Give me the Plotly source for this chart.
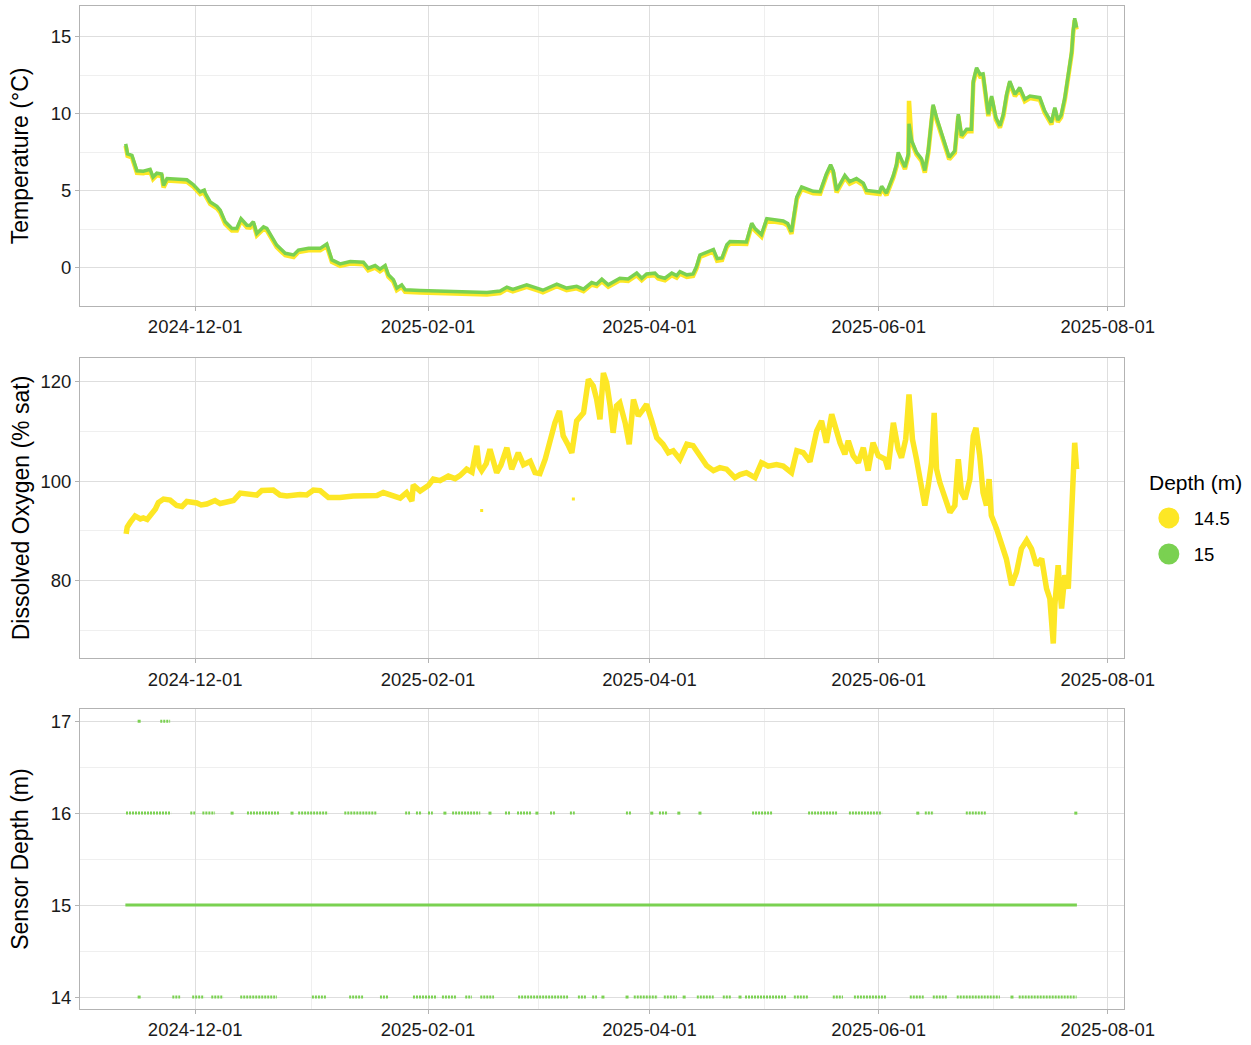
import plotly.graph_objects as go

# ---------------- data ----------------
# Temperature (°C) at the two sensor depths
temp_time = [
    "2024-11-12 12:00", "2024-11-12 18:00", "2024-11-13 00:00", "2024-11-14 04:00", "2024-11-15 12:00",
    "2024-11-17 05:00", "2024-11-19 00:00", "2024-11-19 19:00", "2024-11-20 19:00", "2024-11-22 02:00",
    "2024-11-22 14:00", "2024-11-23 12:00", "2024-11-28 19:00", "2024-11-30 13:00", "2024-12-02 08:00",
    "2024-12-03 10:00", "2024-12-03 17:00", "2024-12-05 00:00", "2024-12-06 19:00", "2024-12-07 16:00",
    "2024-12-09 00:00", "2024-12-10 19:00", "2024-12-12 02:00", "2024-12-13 05:00", "2024-12-14 19:00",
    "2024-12-15 14:00", "2024-12-16 12:00", "2024-12-17 10:00", "2024-12-19 05:00", "2024-12-20 02:00",
    "2024-12-22 17:00", "2024-12-24 02:00", "2024-12-25 00:00", "2024-12-27 05:00", "2024-12-28 12:00",
    "2024-12-31 05:00", "2025-01-03 07:00", "2025-01-05 01:00", "2025-01-06 10:00", "2025-01-08 14:00",
    "2025-01-11 07:00", "2025-01-14 19:00", "2025-01-16 02:00", "2025-01-17 22:00", "2025-01-19 05:00",
    "2025-01-20 14:00", "2025-01-21 11:00", "2025-01-22 19:00", "2025-01-23 17:00", "2025-01-25 00:00",
    "2025-01-25 22:00", "2025-01-29 22:00", "2025-02-06 00:00", "2025-02-09 12:00", "2025-02-16 17:00",
    "2025-02-20 05:00", "2025-02-22 00:00", "2025-02-23 14:00", "2025-02-27 07:00", "2025-03-02 19:00",
    "2025-03-03 14:00", "2025-03-07 07:00", "2025-03-09 22:00", "2025-03-12 14:00", "2025-03-14 10:00",
    "2025-03-16 14:00", "2025-03-17 22:00", "2025-03-19 07:00", "2025-03-21 00:00", "2025-03-24 02:00",
    "2025-03-26 07:00", "2025-03-28 14:00", "2025-03-29 22:00", "2025-03-31 05:00", "2025-04-02 10:00",
    "2025-04-03 07:00", "2025-04-05 02:00", "2025-04-06 22:00", "2025-04-08 05:00", "2025-04-09 02:00",
    "2025-04-10 22:00", "2025-04-12 14:00", "2025-04-13 12:00", "2025-04-14 10:00", "2025-04-16 05:00",
    "2025-04-18 00:00", "2025-04-19 00:00", "2025-04-20 07:00", "2025-04-21 14:00", "2025-04-22 10:00",
    "2025-04-26 19:00", "2025-04-28 05:00", "2025-04-29 02:00", "2025-04-30 19:00", "2025-05-02 05:00",
    "2025-05-06 14:00", "2025-05-07 19:00", "2025-05-08 19:00", "2025-05-10 05:00", "2025-05-11 12:00",
    "2025-05-14 14:00", "2025-05-16 10:00", "2025-05-18 02:00", "2025-05-19 05:00", "2025-05-19 22:00",
    "2025-05-20 19:00", "2025-05-23 00:00", "2025-05-24 07:00", "2025-05-26 02:00", "2025-05-27 22:00",
    "2025-05-28 19:00", "2025-06-01 07:00", "2025-06-01 19:00", "2025-06-03 02:00", "2025-06-04 22:00",
    "2025-06-05 19:00", "2025-06-06 05:00", "2025-06-08 00:00", "2025-06-08 22:00", "2025-06-09 02:00",
    "2025-06-09 19:00", "2025-06-11 02:00", "2025-06-12 10:00", "2025-06-13 07:00", "2025-06-14 05:00",
    "2025-06-14 19:00", "2025-06-15 12:00", "2025-06-16 10:00", "2025-06-17 07:00", "2025-06-18 14:00",
    "2025-06-19 19:00", "2025-06-21 07:00", "2025-06-22 05:00", "2025-06-23 02:00", "2025-06-24 10:00",
    "2025-06-25 17:00", "2025-06-26 05:00", "2025-06-27 02:00", "2025-06-28 00:00", "2025-06-28 19:00",
    "2025-06-29 12:00", "2025-06-30 05:00", "2025-07-01 02:00", "2025-07-02 05:00", "2025-07-03 07:00",
    "2025-07-04 05:00", "2025-07-05 02:00", "2025-07-05 22:00", "2025-07-07 07:00", "2025-07-08 14:00",
    "2025-07-09 22:00", "2025-07-11 07:00", "2025-07-13 22:00", "2025-07-15 05:00", "2025-07-17 00:00",
    "2025-07-17 22:00", "2025-07-18 17:00", "2025-07-19 14:00", "2025-07-20 14:00", "2025-07-21 10:00",
    "2025-07-22 10:00", "2025-07-22 19:00", "2025-07-23 05:00", "2025-07-23 17:00",
]
temp_15m = [
    8.05, 7.6, 7.4, 7.3, 6.3, 6.28, 6.4, 5.9, 6.15, 6.1,
    5.35, 5.8, 5.72, 5.4, 4.93, 5.05, 4.84, 4.28, 4.0, 3.74,
    2.99, 2.56, 2.56, 3.2, 2.77, 2.75, 3.0, 2.24, 2.66, 2.56,
    1.48, 1.16, 0.95, 0.84, 1.16, 1.27, 1.27, 1.55, 0.52, 0.26,
    0.41, 0.37, -0.02, 0.15, -0.08, 0.15, -0.45, -0.77, -1.31, -1.1,
    -1.42, -1.46, -1.53, -1.55, -1.6, -1.5, -1.25, -1.4, -1.1, -1.38,
    -1.45, -1.05, -1.31, -1.2, -1.38, -0.95, -1.05, -0.73, -1.1, -0.67,
    -0.72, -0.34, -0.67, -0.39, -0.34, -0.56, -0.67, -0.34, -0.5, -0.24,
    -0.45, -0.39, 0.09, 0.84, 1.05, 1.2, 0.6, 0.65, 1.5, 1.72,
    1.68, 2.9, 2.55, 2.16, 3.2, 3.05, 2.88, 2.34, 4.6, 5.25,
    4.97, 4.95, 6.1, 6.7, 6.3, 5.03, 6.0, 5.6, 5.8, 5.5,
    5.03, 4.92, 5.3, 4.85, 6.0, 6.75, 7.5, 6.54, 7.4, 9.35,
    8.26, 7.5, 7.08, 6.32, 7.6, 8.8, 10.6, 9.76, 9.1, 8.05,
    7.18, 7.6, 9.98, 8.58, 9.0, 9.0, 12.13, 12.99, 12.56, 12.6,
    11.27, 9.98, 11.16, 9.76, 9.23, 9.98, 11.27, 12.13, 11.27, 11.7,
    10.95, 11.16, 11.05, 10.2, 9.44, 10.4, 9.6, 9.9, 11.05, 12.35,
    14.06, 15.35, 16.2, 15.6,
]
temp_14_5m = [
    7.92, 7.47, 7.27, 7.17, 6.17, 6.15, 6.27, 5.77, 6.02, 5.97,
    5.22, 5.67, 5.59, 5.27, 4.80, 4.92, 4.71, 4.15, 3.87, 3.61,
    2.86, 2.43, 2.43, 3.07, 2.64, 2.62, 2.87, 2.11, 2.53, 2.43,
    1.35, 1.03, 0.82, 0.71, 1.03, 1.14, 1.14, 1.42, 0.39, 0.13,
    0.28, 0.24, -0.15, 0.02, -0.21, 0.02, -0.58, -0.90, -1.44, -1.23,
    -1.55, -1.59, -1.66, -1.68, -1.73, -1.63, -1.38, -1.53, -1.23, -1.51,
    -1.58, -1.18, -1.44, -1.33, -1.51, -1.08, -1.18, -0.86, -1.23, -0.80,
    -0.85, -0.47, -0.80, -0.52, -0.47, -0.69, -0.80, -0.47, -0.63, -0.37,
    -0.58, -0.52, -0.04, 0.71, 0.92, 1.07, 0.47, 0.52, 1.37, 1.59,
    1.55, 2.77, 2.42, 2.03, 3.07, 2.92, 2.75, 2.21, 4.47, 5.12,
    4.84, 4.82, 5.97, 6.57, 6.17, 4.90, 5.87, 5.47, 5.67, 5.37,
    4.90, 4.79, 5.17, 4.72, 5.87, 6.62, 7.37, 6.41, 7.27, 10.84,
    8.13, 7.37, 6.95, 6.19, 7.47, 8.67, 10.47, 9.63, 8.97, 7.92,
    7.05, 7.47, 9.85, 8.45, 8.87, 8.87, 12.00, 12.86, 12.43, 12.47,
    11.14, 9.85, 11.03, 9.63, 9.10, 9.85, 11.14, 12.00, 11.14, 11.57,
    10.82, 11.03, 10.92, 10.07, 9.31, 10.27, 9.47, 9.77, 10.92, 12.22,
    13.93, 15.22, 16.07, 15.47,
]

# Dissolved oxygen (% sat), 14.5 m sensor only
do_time = [
    "2024-11-12 15:00", "2024-11-12 22:00", "2024-11-13 17:00", "2024-11-15 00:00", "2024-11-16 10:00",
    "2024-11-17 05:00", "2024-11-18 05:00", "2024-11-19 00:00", "2024-11-20 10:00", "2024-11-21 05:00",
    "2024-11-22 14:00", "2024-11-24 08:00", "2024-11-26 02:00", "2024-11-27 12:00", "2024-11-28 19:00",
    "2024-12-01 11:00", "2024-12-02 14:00", "2024-12-04 02:00", "2024-12-06 07:00", "2024-12-07 16:00",
    "2024-12-09 00:00", "2024-12-11 05:00", "2024-12-13 00:00", "2024-12-15 14:00", "2024-12-17 10:00",
    "2024-12-18 18:00", "2024-12-21 19:00", "2024-12-23 14:00", "2024-12-25 10:00", "2024-12-28 22:00",
    "2024-12-30 17:00", "2025-01-01 12:00", "2025-01-03 07:00", "2025-01-05 12:00", "2025-01-08 14:00",
    "2025-01-12 02:00", "2025-01-15 17:00", "2025-01-18 10:00", "2025-01-20 02:00", "2025-01-22 19:00",
    "2025-01-24 14:00", "2025-01-26 07:00", "2025-01-27 17:00", "2025-01-28 02:00", "2025-01-29 22:00",
    "2025-02-01 02:00", "2025-02-02 10:00", "2025-02-04 05:00", "2025-02-06 10:00", "2025-02-08 05:00",
    "2025-02-09 12:00", "2025-02-11 07:00", "2025-02-12 17:00", "2025-02-14 00:00", "2025-02-14 14:00",
    "2025-02-15 07:00", "2025-02-16 12:00", "2025-02-17 12:00", "2025-02-19 07:00", "2025-02-20 10:00",
    "2025-02-22 00:00", "2025-02-23 07:00", "2025-02-25 01:00", "2025-02-26 10:00", "2025-02-28 05:00",
    "2025-03-01 12:00", "2025-03-02 19:00", "2025-03-04 05:00", "2025-03-05 12:00", "2025-03-06 19:00",
    "2025-03-08 00:00", "2025-03-09 00:00", "2025-03-10 10:00", "2025-03-11 07:00", "2025-03-12 14:00",
    "2025-03-14 10:00", "2025-03-15 17:00", "2025-03-17 00:00", "2025-03-17 22:00", "2025-03-18 19:00",
    "2025-03-19 17:00", "2025-03-20 14:00", "2025-03-21 12:00", "2025-03-22 07:00", "2025-03-23 05:00",
    "2025-03-24 02:00", "2025-03-25 12:00", "2025-03-26 14:00", "2025-03-27 17:00", "2025-03-29 00:00",
    "2025-03-30 07:00", "2025-03-31 05:00", "2025-04-01 14:00", "2025-04-02 22:00", "2025-04-04 14:00",
    "2025-04-06 00:00", "2025-04-07 07:00", "2025-04-09 02:00", "2025-04-10 22:00", "2025-04-12 14:00",
    "2025-04-14 10:00", "2025-04-16 05:00", "2025-04-18 00:00", "2025-04-19 17:00", "2025-04-21 12:00",
    "2025-04-23 17:00", "2025-04-25 02:00", "2025-04-26 19:00", "2025-04-29 02:00", "2025-04-30 19:00",
    "2025-05-02 14:00", "2025-05-04 19:00", "2025-05-06 14:00", "2025-05-08 19:00", "2025-05-10 05:00",
    "2025-05-11 22:00", "2025-05-13 17:00", "2025-05-15 12:00", "2025-05-16 19:00", "2025-05-18 02:00",
    "2025-05-19 12:00", "2025-05-20 07:00", "2025-05-21 17:00", "2025-05-23 00:00", "2025-05-23 22:00",
    "2025-05-25 05:00", "2025-05-26 14:00", "2025-05-27 22:00", "2025-05-29 05:00", "2025-05-30 12:00",
    "2025-05-31 22:00", "2025-06-02 17:00", "2025-06-03 12:00", "2025-06-04 22:00", "2025-06-06 05:00",
    "2025-06-07 02:00", "2025-06-08 05:00", "2025-06-09 02:00", "2025-06-10 00:00", "2025-06-11 02:00",
    "2025-06-12 10:00", "2025-06-13 07:00", "2025-06-14 05:00", "2025-06-15 02:00", "2025-06-15 19:00",
    "2025-06-16 10:00", "2025-06-17 07:00", "2025-06-18 14:00", "2025-06-20 00:00", "2025-06-21 07:00",
    "2025-06-22 05:00", "2025-06-23 02:00", "2025-06-24 00:00", "2025-06-25 07:00", "2025-06-26 05:00",
    "2025-06-26 22:00", "2025-06-27 22:00", "2025-06-28 19:00", "2025-06-29 17:00", "2025-06-30 10:00",
    "2025-07-01 00:00", "2025-07-02 10:00", "2025-07-03 17:00", "2025-07-05 00:00", "2025-07-06 10:00",
    "2025-07-07 17:00", "2025-07-09 00:00", "2025-07-10 10:00", "2025-07-11 17:00", "2025-07-13 00:00",
    "2025-07-14 10:00", "2025-07-15 17:00", "2025-07-16 14:00", "2025-07-17 12:00", "2025-07-17 22:00",
    "2025-07-18 19:00", "2025-07-19 17:00", "2025-07-20 14:00", "2025-07-21 12:00", "2025-07-21 22:00",
    "2025-07-22 10:00", "2025-07-22 19:00", "2025-07-23 05:00", "2025-07-23 17:00",
]
do_14_5m = [
    89.4, 90.8, 91.7, 93.0, 92.4, 92.6, 92.3, 93.0, 94.4, 95.7,
    96.4, 96.2, 95.1, 94.9, 95.9, 95.6, 95.2, 95.4, 96.1, 95.5,
    95.8, 96.1, 97.6, 97.4, 97.2, 98.1, 98.2, 97.2, 97.0, 97.3,
    97.2, 98.2, 98.1, 96.7, 96.7, 97.0, 97.0, 97.1, 97.7, 96.9,
    96.6, 97.7, 96.0, 99.2, 98.0, 99.1, 100.4, 100.1, 101.0, 100.5,
    101.1, 102.4, 101.8, 107.1, 103.0, 102.1, 103.5, 106.4, 101.7, 103.2,
    106.7, 102.4, 105.7, 103.3, 104.0, 101.7, 101.5, 104.4, 108.4, 111.7,
    114.1, 109.1, 107.1, 105.7, 112.1, 113.7, 120.4, 119.1, 116.4, 112.4,
    121.7, 119.7, 115.1, 109.7, 115.1, 115.7, 111.7, 107.4, 116.4, 113.1,
    114.4, 115.4, 112.1, 108.7, 107.4, 105.7, 106.1, 104.4, 107.4, 107.1,
    105.1, 103.1, 102.1, 102.7, 102.4, 100.7, 101.3, 101.7, 100.7, 103.7,
    103.0, 103.3, 103.0, 101.7, 106.1, 105.7, 103.9, 110.1, 112.1, 107.7,
    113.4, 111.1, 107.7, 105.4, 108.1, 105.1, 103.7, 106.7, 102.1, 107.7,
    105.1, 104.4, 102.4, 111.7, 106.4, 104.7, 108.4, 117.4, 108.4, 104.4,
    98.4, 95.1, 99.1, 103.7, 113.7, 102.4, 99.7, 97.1, 93.7, 95.1,
    104.4, 97.7, 96.4, 100.4, 109.1, 110.7, 105.1, 97.7, 95.1, 100.4,
    93.1, 90.4, 87.1, 84.4, 79.1, 81.7, 86.4, 88.1, 86.4, 83.1,
    84.4, 78.4, 76.4, 67.4, 75.1, 83.1, 74.4, 81.1, 78.4, 86.4,
    93.1, 102.4, 107.7, 102.4,
]
# isolated low oxygen readings
do_outlier_time = ["2025-02-15 07:00", "2025-03-11 17:00"]
do_outlier_value = [94.1, 96.4]

# Sensor depth (m) of the 15 m logger
depth_record = ["2024-11-12 10:00", "2025-07-23 19:00"]   # logger nominally at 15 m throughout
depth_nominal = [15, 15]
depth16_start = ["2024-11-12 14:00", "2024-11-29 17:00", "2024-12-02 22:00", "2024-12-14 19:00",
                 "2024-12-28 10:00", "2025-01-09 17:00", "2025-01-25 22:00", "2025-01-28 19:00",
                 "2025-02-01 00:00", "2025-02-07 10:00", "2025-02-21 12:00", "2025-02-24 17:00",
                 "2025-03-05 12:00", "2025-03-10 19:00", "2025-03-25 17:00", "2025-04-03 12:00",
                 "2025-04-28 07:00", "2025-05-13 05:00", "2025-05-24 02:00", "2025-06-13 07:00",
                 "2025-06-24 05:00"]
depth16_end = ["2024-11-24 14:00", "2024-12-01 00:00", "2024-12-06 07:00", "2024-12-23 14:00",
               "2025-01-05 10:00", "2025-01-18 10:00", "2025-01-27 05:00", "2025-01-30 10:00",
               "2025-02-02 07:00", "2025-02-14 22:00", "2025-02-23 02:00", "2025-02-28 10:00",
               "2025-03-06 19:00", "2025-03-12 02:00", "2025-03-27 07:00", "2025-04-05 22:00",
               "2025-05-03 19:00", "2025-05-20 22:00", "2025-06-01 22:00", "2025-06-15 17:00",
               "2025-06-29 19:00"]
depth16_single = ["2024-12-10 20:00", "2024-12-26 19:00", "2025-02-05 12:00", "2025-02-17 12:00",
                  "2025-03-02 00:00", "2025-04-01 14:00", "2025-04-08 19:00", "2025-04-14 10:00",
                  "2025-06-11 10:00", "2025-07-23 12:00"]
depth14_start = ["2024-11-24 22:00", "2024-11-30 05:00", "2024-12-05 07:00", "2024-12-13 00:00",
                 "2025-01-01 02:00", "2025-01-11 00:00", "2025-01-19 05:00", "2025-01-28 00:00",
                 "2025-02-04 17:00", "2025-02-10 22:00", "2025-02-14 22:00", "2025-02-25 00:00",
                 "2025-03-12 22:00", "2025-03-16 17:00", "2025-03-27 19:00", "2025-04-04 19:00",
                 "2025-04-13 14:00", "2025-04-20 12:00", "2025-04-26 10:00", "2025-05-09 10:00",
                 "2025-05-19 19:00", "2025-05-25 10:00", "2025-06-09 07:00", "2025-06-15 10:00",
                 "2025-06-21 19:00", "2025-07-08 07:00"]
depth14_end = ["2024-11-27 00:00", "2024-12-03 10:00", "2024-12-08 12:00", "2024-12-22 19:00",
               "2025-01-04 22:00", "2025-01-14 17:00", "2025-01-21 14:00", "2025-02-03 10:00",
               "2025-02-08 17:00", "2025-02-12 17:00", "2025-02-18 14:00", "2025-03-10 07:00",
               "2025-03-15 02:00", "2025-03-18 00:00", "2025-04-03 05:00", "2025-04-08 07:00",
               "2025-04-18 02:00", "2025-04-22 17:00", "2025-05-07 14:00", "2025-05-13 05:00",
               "2025-05-22 12:00", "2025-06-03 05:00", "2025-06-13 00:00", "2025-06-19 05:00",
               "2025-07-03 07:00", "2025-07-23 17:00"]
depth14_single = ["2024-11-16 02:00", "2025-03-19 14:00", "2025-03-26 00:00", "2025-04-10 05:00",
                  "2025-04-25 02:00", "2025-07-06 12:00"]
depth17_start = ["2024-11-21 17:00"]
depth17_end = ["2024-11-24 08:00"]
depth17_single = ["2024-11-16 02:00"]

depth_labels = ["14.5", "15"]
x_ticks = ["2024-12-01", "2025-02-01", "2025-04-01", "2025-06-01", "2025-08-01"]
x_minor = ["2024-10-31 12:00", "2025-01-01", "2025-03-02 12:00", "2025-05-01 12:00", "2025-07-01 12:00"]

assert len(temp_time) == len(temp_15m) == len(temp_14_5m)
assert len(do_time) == len(do_14_5m)

# ---------------- styling ----------------
YELLOW = "#FDE725"
GREEN = "#7AD151"
FONT = "Liberation Sans, Arial, sans-serif"
BORDER = "#B3B3B3"
GRID = "#DEDEDE"
MINOR = "#EFEFEF"
TICKFONT = 18.5
TITLEFONT = 23

fig = go.Figure()

def segs(starts, ends, level):
    xs, ys = [], []
    for s, e in zip(starts, ends):
        xs += [s, e, None]
        ys += [level, level, None]
    return xs, ys

# Panel 1: temperature
fig.add_trace(go.Scatter(x=temp_time, y=temp_14_5m, mode="lines", line=dict(color=YELLOW, width=4.5),
                         showlegend=False, xaxis="x", yaxis="y"))
fig.add_trace(go.Scatter(x=temp_time, y=temp_15m, mode="lines", line=dict(color=GREEN, width=3.5),
                         showlegend=False, xaxis="x", yaxis="y"))

# Panel 2: dissolved oxygen
fig.add_trace(go.Scatter(x=do_time, y=do_14_5m, mode="lines", line=dict(color=YELLOW, width=5.5),
                         showlegend=False, xaxis="x2", yaxis="y2"))
fig.add_trace(go.Scatter(x=do_outlier_time, y=do_outlier_value, mode="markers",
                         marker=dict(color=YELLOW, size=3, symbol="square"),
                         showlegend=False, xaxis="x2", yaxis="y2"))

# Panel 3: sensor depth
fig.add_trace(go.Scatter(x=depth_record, y=depth_nominal, mode="lines", line=dict(color=GREEN, width=3),
                         showlegend=False, xaxis="x3", yaxis="y3"))
for starts, ends, singles, level in [(depth16_start, depth16_end, depth16_single, 16),
                                     (depth14_start, depth14_end, depth14_single, 14),
                                     (depth17_start, depth17_end, depth17_single, 17)]:
    xs, ys = segs(starts, ends, level)
    fig.add_trace(go.Scatter(x=xs, y=ys, mode="lines", line=dict(color=GREEN, width=3, dash="2px,1px"),
                             showlegend=False, xaxis="x3", yaxis="y3"))
    fig.add_trace(go.Scatter(x=singles, y=[level] * len(singles), mode="markers",
                             marker=dict(color=GREEN, size=3, symbol="square"),
                             showlegend=False, xaxis="x3", yaxis="y3"))

# legend entries
for lab, col in zip(depth_labels, [YELLOW, GREEN]):
    fig.add_trace(go.Scatter(x=[None], y=[None], mode="markers", name=lab, legendgroup=lab,
                             marker=dict(color=col, size=22, symbol="circle",
                                         line=dict(color=col, width=5)),
                             showlegend=True, xaxis="x", yaxis="y"))

H = 1007.0
def dom(top_px, bottom_px):
    return [(1012 - bottom_px) / H, (1012 - top_px) / H]

common = dict(showline=True, linecolor=BORDER, linewidth=1, mirror=True,
              ticks="outside", ticklen=4, tickcolor=BORDER, tickwidth=1,
              showgrid=True, gridcolor=GRID, gridwidth=1, zeroline=False,
              tickfont=dict(size=TICKFONT, color="#1A1A1A", family=FONT))

xcommon = dict(common, type="date", range=["2024-10-31 08:00", "2025-08-05 08:00"],
               tickmode="array", tickvals=x_ticks, ticktext=x_ticks,
               minor=dict(tickmode="array", tickvals=x_minor, showgrid=True,
                          gridcolor=MINOR, gridwidth=1, ticks=""))

def ycommon(title, rng, tickvals, minor_vals, standoff):
    return dict(common, range=rng, tickmode="array", tickvals=tickvals,
                title=dict(text=title, font=dict(size=TITLEFONT, color="black", family=FONT),
                           standoff=standoff),
                minor=dict(tickmode="array", tickvals=minor_vals, showgrid=True,
                           gridcolor=MINOR, gridwidth=1, ticks=""))

fig.update_layout(
    width=1251, height=1045,
    margin=dict(l=80, r=127, t=5, b=33),
    paper_bgcolor="white", plot_bgcolor="white",
    font=dict(family=FONT, color="black"),
    xaxis=dict(xcommon, anchor="y", domain=[0, 1]),
    xaxis2=dict(xcommon, anchor="y2", domain=[0, 1]),
    xaxis3=dict(xcommon, anchor="y3", domain=[0, 1]),
    yaxis=dict(ycommon("Temperature (°C)", [-2.46, 17.0], [0, 5, 10, 15], [2.5, 7.5, 12.5], 15),
               anchor="x", domain=dom(5, 306)),
    yaxis2=dict(ycommon("Dissolved Oxygen (% sat)", [64.4, 124.8], [80, 100, 120], [70, 90, 110], 4),
                anchor="x2", domain=dom(358, 660)),
    yaxis3=dict(ycommon("Sensor Depth (m)", [13.87, 17.13], [14, 15, 16, 17], [14.5, 15.5, 16.5], 15),
                anchor="x3", domain=dom(711, 1012)),
    legend=dict(font=dict(size=18.5, color="black", family=FONT),
                x=1.019, xanchor="left", y=(1012 - 537.5) / H, yanchor="middle",
                itemsizing="trace", itemwidth=40, tracegroupgap=9, bgcolor="rgba(0,0,0,0)"),
    annotations=[dict(text="Depth (m)", xref="paper", yref="paper",
                      x=1.022, y=(1012 - 483) / H, xanchor="left", yanchor="middle",
                      showarrow=False, font=dict(size=21, color="black", family=FONT))],
)

fig.write_html("out.html", config={"displayModeBar": False},
               post_script="document.body.style.margin='0px';")
